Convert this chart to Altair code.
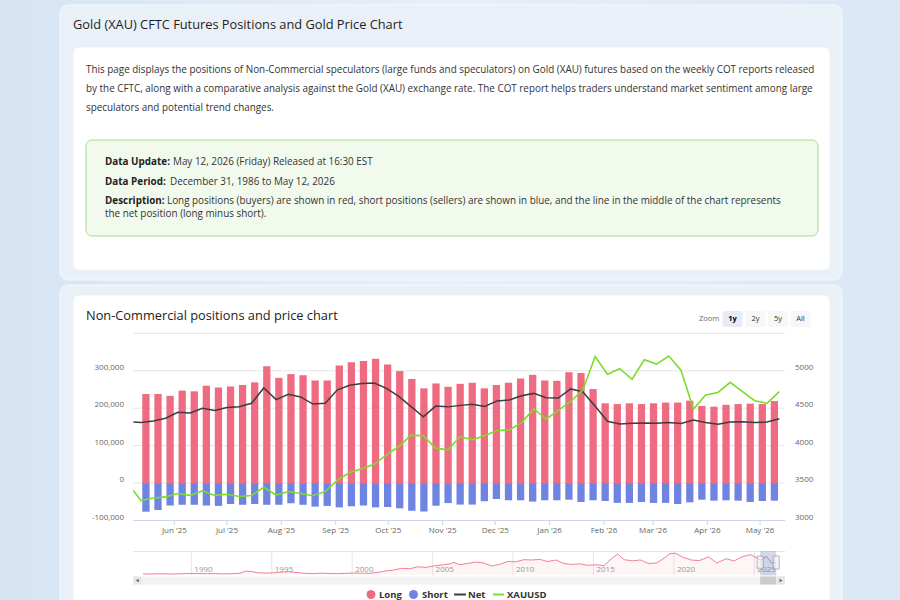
import altair as alt
import pandas as pd

FONT = "Open Sans"
RED = "#ee6b81"
BLUE = "#6f84e0"
NET_COLOR = "#3d3d42"
GREEN = "#7cdc2a"
LABEL_GRAY = "#666666"

# ---- weekly CFTC report data (report dates are Tuesdays) ----
report_dates = pd.date_range("2025-05-13", periods=53, freq="7D").strftime("%Y-%m-%d").tolist()
long_positions = [238000, 238000, 233000, 247000, 245000, 260000, 255000, 258000, 262000, 269000,
                  312000, 281000, 291000, 288000, 274000, 274000, 314000, 323000, 326000, 332000,
                  317000, 299000, 278000, 253000, 266000, 257000, 265000, 268000, 253000, 262000,
                  268000, 279000, 289000, 274000, 273000, 296000, 294000, 251000, 213000, 211000,
                  213000, 211000, 213000, 215000, 215000, 220000, 206000, 204000, 209000, 211000,
                  212000, 211000, 219000]
short_positions = [76500, 72000, 60000, 58000, 58000, 60000, 61000, 56000, 58000, 56000,
                   58000, 58000, 54000, 58000, 63000, 61000, 65000, 62000, 60000, 65000,
                   64000, 67500, 74000, 76000, 60500, 53500, 57500, 57500, 48500, 42500,
                   46000, 46000, 49500, 46000, 46000, 44500, 50500, 46000, 48000, 53000,
                   53000, 50500, 53000, 53000, 56000, 51500, 44500, 47000, 46000, 47000,
                   50500, 48000, 47000]
xauusd = [3265, 3300, 3315, 3360, 3335, 3395, 3335, 3350, 3320, 3333,
          3444, 3340, 3388, 3360, 3331, 3386, 3540, 3640, 3690, 3750,
          3877, 3988, 4140, 4130, 3966, 3944, 4121, 4077, 4135, 4201,
          4210, 4307, 4490, 4352, 4472, 4590, 4745, 5190, 4954, 5027,
          4885, 5146, 5089, 5196, 5005, 4488, 4676, 4710, 4845, 4720,
          4600, 4565, 4720]

# report of the previous week, so both lines enter from the left edge
lead_date = "2025-05-06"
lead_net = 163000
lead_xauusd = 3400

month_ticks = ["2025-06-01", "2025-07-01", "2025-08-01", "2025-09-01", "2025-10-01", "2025-11-01",
               "2025-12-01", "2026-01-01", "2026-02-01", "2026-03-01", "2026-04-01", "2026-05-01"]
month_labels = ["Jun '25", "Jul '25", "Aug '25", "Sep '25", "Oct '25", "Nov '25",
                "Dec '25", "Jan '26", "Feb '26", "Mar '26", "Apr '26", "May '26"]
left_ticks = [-100000, 0, 100000, 200000, 300000]
left_labels = ["-100,000", "0", "100,000", "200,000", "300,000"]
grid_ticks = [0, 100000, 200000, 300000, 400000]
right_ticks = [3000, 3500, 4000, 4500, 5000]
right_labels = ["3000", "3500", "4000", "4500", "5000"]

# ---- full history of long positions for the navigator (thousands of contracts) ----
nav_dates = ["1987-01-01", "1987-07-01", "1988-01-01", "1988-07-01", "1989-01-01", "1989-07-01",
             "1990-01-01", "1990-07-01", "1991-01-01", "1991-07-01", "1992-01-01", "1992-07-01",
             "1993-01-01", "1993-06-01", "1993-10-01", "1994-03-01", "1994-09-01", "1995-03-01",
             "1995-09-01", "1996-02-01", "1996-08-01", "1997-02-01", "1997-08-01", "1998-02-01",
             "1998-08-01", "1999-02-01", "1999-08-01", "2000-02-01", "2000-08-01", "2001-02-01",
             "2001-08-01", "2002-02-01", "2002-08-01", "2003-02-01", "2003-08-01", "2004-02-01",
             "2004-08-01", "2005-02-01", "2005-08-01", "2006-02-01", "2006-05-01", "2006-09-01",
             "2007-03-01", "2007-09-01", "2008-03-01", "2008-09-01", "2009-03-01", "2009-09-01",
             "2010-03-01", "2010-09-01", "2011-03-01", "2011-09-01", "2012-03-01", "2012-09-01",
             "2013-03-01", "2013-09-01", "2014-03-01", "2014-09-01", "2015-03-01", "2015-09-01",
             "2016-02-01", "2016-07-01", "2016-12-01", "2017-06-01", "2017-12-01", "2018-06-01",
             "2018-12-01", "2019-06-01", "2019-10-01", "2020-02-01", "2020-08-01", "2021-02-01",
             "2021-08-01", "2022-03-01", "2022-09-01", "2023-04-01", "2023-10-01", "2024-04-01",
             "2024-10-01", "2025-03-01", "2025-06-01", "2025-10-01", "2026-02-01", "2026-05-12"]
nav_long_k = [30, 28, 32, 30, 29, 34, 38, 36, 33, 35, 31, 34, 40, 78, 70, 48, 44, 50,
              62, 66, 52, 40, 36, 42, 38, 34, 40, 45, 42, 40, 55, 80, 95, 125, 118, 150,
              140, 165, 180, 200, 225, 185, 205, 230, 215, 165, 190, 240, 235, 270, 265, 275,
              240, 265, 205, 190, 200, 175, 185, 170, 280, 365, 270, 250, 265, 205, 215, 300,
              370, 380, 310, 265, 255, 320, 215, 285, 250, 320, 355, 300, 260, 330, 213, 219]
nav_year_ticks = ["1990-01-01", "1995-01-01", "2000-01-01", "2005-01-01",
                  "2010-01-01", "2015-01-01", "2020-01-01", "2025-01-01"]
nav_year_labels = ["1990", "1995", "2000", "2005", "2010", "2015", "2020", "2025"]

legend_labels = ["Long", "Short", "Net", "XAUUSD"]
zoom_buttons = ["1y", "2y", "5y", "All"]

# ---- frames ----
cot = pd.DataFrame({"date": report_dates, "long": long_positions, "short": short_positions})
lines = pd.DataFrame({
    "date": [lead_date] + report_dates,
    "net": [lead_net] + [l - s for l, s in zip(long_positions, short_positions)],
    "xauusd": [lead_xauusd] + xauusd,
})
nav = pd.DataFrame({"date": nav_dates, "long_k": nav_long_k})
ONE = pd.DataFrame({"k": [0]})

# ---- scales ----
x_main = alt.Scale(type="utc",
                   domain=[alt.DateTime(year=2025, month=5, date=8, hours=14, utc=True),
                           alt.DateTime(year=2026, month=5, date=15, hours=6, utc=True)],
                   range=[133.3, 785], clamp=True)
y_pos = alt.Scale(domain=[-100000, 400000], range=[520.5, 333.3], nice=False, zero=False)
y_px = alt.Scale(domain=[3000, 5500], range=[520.5, 333.3], nice=False, zero=False)
x_nav = alt.Scale(type="utc",
                  domain=[alt.DateTime(year=1986, month=12, date=31, utc=True),
                          alt.DateTime(year=2026, month=5, date=12, utc=True)],
                  range=[143, 776.2])
y_nav = alt.Scale(domain=[20, 400], range=[574.5, 552], nice=False, zero=False)

X = alt.X("date:T", scale=x_main, axis=None)


def box(x, x2, y, y2, fill, stroke=None, radius=0, width=1.0):
    kw = dict(fill=fill, cornerRadius=radius)
    if stroke:
        kw.update(stroke=stroke, strokeWidth=width)
    return alt.Chart(ONE).mark_rect(**kw).encode(
        x=alt.value(x), x2=alt.value(x2), y=alt.value(y), y2=alt.value(y2))


def txt(s, x, y, size, color="#333333", weight="normal", align="left"):
    return alt.Chart(ONE).mark_text(
        text=s, align=align, baseline="middle", font=FONT, fontSize=size,
        fontWeight=weight, color=color).encode(x=alt.value(x), y=alt.value(y))


layers = []

# page background and cards
page_fill = alt.Gradient(gradient="linear", x1=0, x2=1, y1=0, y2=0,
                         stops=[alt.GradientStop(color="#d6e4f4", offset=0),
                                alt.GradientStop(color="#e7eff8", offset=0.5),
                                alt.GradientStop(color="#dbe7f5", offset=1)])
layers.append(alt.Chart(ONE).mark_rect(color=page_fill).encode(
    x=alt.value(0), x2=alt.value(900), y=alt.value(0), y2=alt.value(600)))
layers.append(box(60, 842, 5, 280, "#e9f0f8", "#f6f9fc", 8))
layers.append(box(60, 842, 285, 640, "#e9f0f8", "#f6f9fc", 8))
layers.append(box(73, 830, 47, 270, "#ffffff", "#eef2f7", 6))
layers.append(box(73, 830, 295, 640, "#ffffff", "#eef2f7", 6))
layers.append(box(86, 818, 140, 236, "#f2faee", "#a8db8f", 6))

# page texts
BODY = 9.9
layers.append(txt("Gold (XAU) CFTC Futures Positions and Gold Price Chart", 73, 25, 12.8, "#1e1e1e", 500))
paragraph = [
    "This page displays the positions of Non-Commercial speculators (large funds and speculators) on Gold (XAU) futures based on the weekly COT reports released",
    "by the CFTC, along with a comparative analysis against the Gold (XAU) exchange rate. The COT report helps traders understand market sentiment among large",
    "speculators and potential trend changes.",
]
for line, yy in zip(paragraph, [70, 89, 108]):
    layers.append(txt(line, 86, yy, BODY, "#333333"))

layers.append(txt("Data Update:", 105, 162, BODY, "#222222", "bold"))
layers.append(txt("May 12, 2026 (Friday) Released at 16:30 EST", 173, 162, BODY))
layers.append(txt("Data Period:", 105, 182, BODY, "#222222", "bold"))
layers.append(txt("December 31, 1986 to May 12, 2026", 170, 182, BODY))
layers.append(txt("Description:", 105, 201, BODY, "#222222", "bold"))
layers.append(txt("Long positions (buyers) are shown in red, short positions (sellers) are shown in blue, "
                  "and the line in the middle of the chart represents", 167, 201, BODY))
layers.append(txt("the net position (long minus short).", 105, 214, BODY))

# chart header and range buttons
layers.append(txt("Non-Commercial positions and price chart", 86, 316, 12.8, "#222222", 500))
layers.append(txt("Zoom", 709, 319, 7.5, LABEL_GRAY, align="center"))
for i, (lab, cx) in enumerate(zip(zoom_buttons, [732.5, 755.5, 778, 800.5])):
    selected = i == 0
    layers.append(box(cx - 10, cx + 10, 311, 327, "#e6ebf5" if selected else "#f7f7f7", radius=2))
    layers.append(txt(lab, cx, 319, 7.5, "#000000" if selected else "#333333",
                      "bold" if selected else "normal", "center"))

# grid and axis line
layers.append(alt.Chart(pd.DataFrame({"v": grid_ticks})).mark_rule(color="#e6e6e6").encode(
    y=alt.Y("v:Q", scale=y_pos, axis=None), x=alt.value(133.3), x2=alt.value(785)))
layers.append(alt.Chart(pd.DataFrame({"v": left_ticks[:1]})).mark_rule(color="#ccd6eb").encode(
    y=alt.Y("v:Q", scale=y_pos, axis=None), x=alt.value(133.3), x2=alt.value(785)))

# bars
layers.append(alt.Chart(cot).mark_bar(color=RED, width=7.3).encode(
    x=X, y=alt.Y("long:Q", scale=y_pos, axis=None), y2=alt.datum(0)))
layers.append(alt.Chart(cot).transform_calculate(short_neg="-datum.short").mark_bar(
    color=BLUE, width=7.3).encode(
    x=X, y=alt.Y("short_neg:Q", scale=y_pos, axis=None), y2=alt.datum(0)))

# lines
layers.append(alt.Chart(lines).mark_line(color=NET_COLOR, strokeWidth=1.5).encode(
    x=X, y=alt.Y("net:Q", scale=y_pos, axis=None)))
layers.append(alt.Chart(lines).mark_line(color=GREEN, strokeWidth=1.6).encode(
    x=X, y=alt.Y("xauusd:Q", scale=y_px, axis=None)))

# x axis ticks and labels
months = pd.DataFrame({"d": month_ticks, "label": month_labels})
layers.append(alt.Chart(months).mark_rule(color="#ccd6eb").encode(
    x=alt.X("d:T", scale=x_main, axis=None), y=alt.value(520.5), y2=alt.value(525)))
layers.append(alt.Chart(months).mark_text(font=FONT, fontSize=8, color=LABEL_GRAY, baseline="middle").encode(
    x=alt.X("d:T", scale=x_main, axis=None), y=alt.value(531), text="label:N"))

# y axis labels
layers.append(alt.Chart(pd.DataFrame({"v": left_ticks, "label": left_labels})).mark_text(
    font=FONT, fontSize=8, color=LABEL_GRAY, align="right", baseline="middle", dy=-3).encode(
    y=alt.Y("v:Q", scale=y_pos, axis=None), x=alt.value(124), text="label:N"))
layers.append(alt.Chart(pd.DataFrame({"v": right_ticks, "label": right_labels})).mark_text(
    font=FONT, fontSize=8, color=LABEL_GRAY, align="left", baseline="middle", dy=-3).encode(
    y=alt.Y("v:Q", scale=y_px, axis=None), x=alt.value(795), text="label:N"))

# ---- navigator ----
years = pd.DataFrame({"d": nav_year_ticks, "label": nav_year_labels})
XN = alt.X("d:T", scale=x_nav, axis=None)
layers.append(alt.Chart(years).mark_rule(color="#e6e6e6").encode(
    x=XN, y=alt.value(551), y2=alt.value(575.5)))
layers.append(alt.Chart(nav).mark_area(color=RED, opacity=0.07).encode(
    x=alt.X("date:T", scale=x_nav, axis=None), y=alt.Y("long_k:Q", scale=y_nav, axis=None),
    y2=alt.datum(20)))
layers.append(alt.Chart(nav).mark_line(color=RED, strokeWidth=1, opacity=0.85).encode(
    x=alt.X("date:T", scale=x_nav, axis=None), y=alt.Y("long_k:Q", scale=y_nav, axis=None)))
layers.append(alt.Chart(years).mark_text(font=FONT, fontSize=8, color="#999999", align="left",
                                         baseline="middle", dx=3).encode(
    x=XN, y=alt.value(570), text="label:N"))
layers.append(box(133.3, 785, 551, 551.5, "#cccccc"))

window = pd.DataFrame({"a": [report_dates[0]], "b": [report_dates[-1]]})
layers.append(alt.Chart(window).mark_rect(color="#6685c2", opacity=0.3).encode(
    x=alt.X("a:T", scale=x_nav, axis=None), x2="b:T", y=alt.value(551), y2=alt.value(575.5)))

# scrollbar
layers.append(box(133.3, 785, 576.5, 584.5, "#f2f2f2"))
layers.append(box(133.3, 141.3, 576.5, 584.5, "#e6e6e6"))
layers.append(box(777, 785, 576.5, 584.5, "#e6e6e6"))
layers.append(alt.Chart(window).mark_rect(color="#cccccc").encode(
    x=alt.X("a:T", scale=x_nav, axis=None), x2="b:T", y=alt.value(576.5), y2=alt.value(584.5)))
layers.append(alt.Chart(ONE).mark_point(shape="triangle-left", filled=True, color="#333333", size=12).encode(
    x=alt.value(137.3), y=alt.value(580.5)))
layers.append(alt.Chart(ONE).mark_point(shape="triangle-right", filled=True, color="#333333", size=12).encode(
    x=alt.value(781), y=alt.value(580.5)))

# navigator handles
handles = pd.DataFrame({"d": [report_dates[0], report_dates[-1]]})
layers.append(alt.Chart(handles).mark_tick(orient="vertical", thickness=6, size=13, color="#f2f2f2",
                                           stroke="#999999", strokeWidth=1).encode(
    x=XN, y=alt.value(562.5)))

# ---- legend ----
LEG_Y = 594.5
layers.append(alt.Chart(ONE).mark_point(shape="circle", filled=True, color=RED, size=80, opacity=1).encode(
    x=alt.value(371), y=alt.value(LEG_Y)))
layers.append(alt.Chart(ONE).mark_point(shape="circle", filled=True, color=BLUE, size=80, opacity=1).encode(
    x=alt.value(413.5), y=alt.value(LEG_Y)))
layers.append(alt.Chart(ONE).mark_rule(color=NET_COLOR, strokeWidth=2).encode(
    x=alt.value(454), x2=alt.value(466), y=alt.value(LEG_Y)))
layers.append(alt.Chart(ONE).mark_rule(color=GREEN, strokeWidth=2).encode(
    x=alt.value(493), x2=alt.value(504), y=alt.value(LEG_Y)))
for lab, lx in zip(legend_labels, [379, 422, 468, 507]):
    layers.append(txt(lab, lx, LEG_Y, 9.5, "#333333", "bold"))

chart = alt.layer(*layers).resolve_scale(x="independent", y="independent").properties(
    width=900, height=600, autosize=alt.AutoSizeParams(type="none"), padding=0,
    background="#dfe9f5").configure_view(stroke=None)

chart.save("out.html", embed_options={"renderer": "svg", "actions": False})
